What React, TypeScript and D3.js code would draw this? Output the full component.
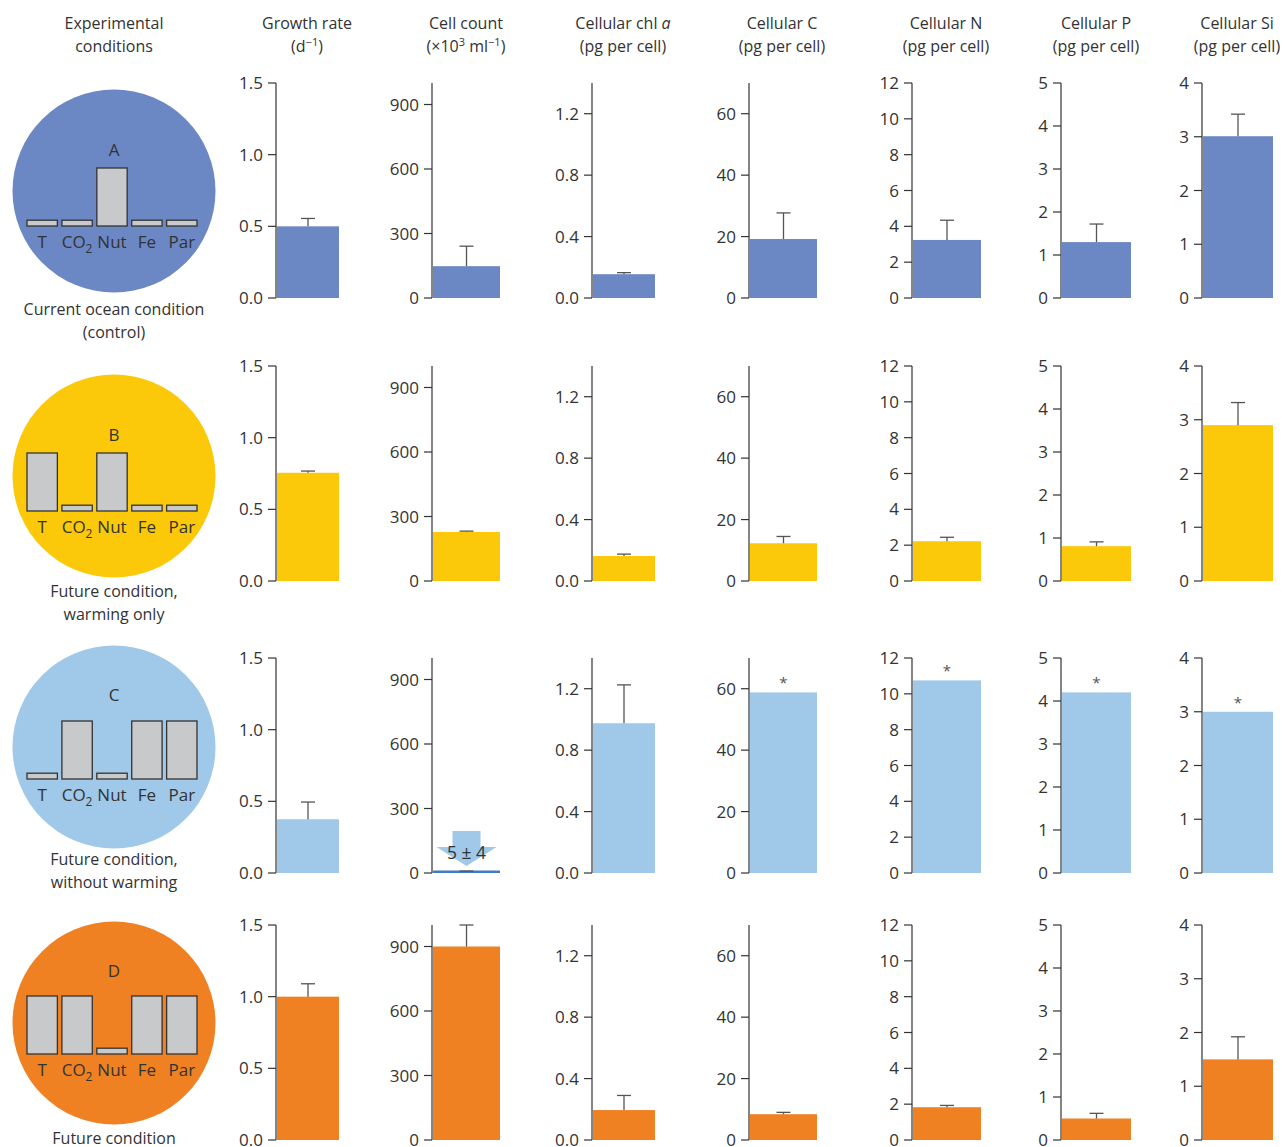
import React from "react";
import * as d3 from "d3";

// ---------- DATA ----------
const scenarios = ["A", "B", "C", "D"];
const scenarioColors = ["#6b87c4", "#fcc90a", "#9fc8e9", "#f08122"];
const captions = [
  ["Current ocean condition", "(control)"],
  ["Future condition,", "warming only"],
  ["Future condition,", "without warming"],
  ["Future condition", ""],
];
const drivers = ["T", "CO2", "Nut", "Fe", "Par"];
// driver levels (0.1 = low/current, 1 = high/future)
const driverLevelsA = [0.1, 0.1, 1, 0.1, 0.1];
const driverLevelsB = [1, 0.1, 1, 0.1, 0.1];
const driverLevelsC = [0.1, 1, 0.1, 1, 1];
const driverLevelsD = [1, 1, 0.1, 1, 1];
const driverLevels = [driverLevelsA, driverLevelsB, driverLevelsC, driverLevelsD];

const variableNames = ["growth", "cell", "chl", "C", "N", "P", "Si"];
const variableMax = [1.5, 1000, 1.4, 70, 12, 5, 4];
const ticksGrowth = [0, 0.5, 1.0, 1.5];
const ticksCell = [0, 300, 600, 900];
const ticksChl = [0, 0.4, 0.8, 1.2];
const ticksC = [0, 20, 40, 60];
const ticksN = [0, 2, 4, 6, 8, 10, 12];
const ticksP = [0, 1, 2, 3, 4, 5];
const ticksSi = [0, 1, 2, 3, 4];
const variableTicks = [ticksGrowth, ticksCell, ticksChl, ticksC, ticksN, ticksP, ticksSi];
const tickDecimals = [1, 0, 1, 0, 0, 0, 0];

// values per scenario (A, B, C, D)
const growthMean = [0.5, 0.755, 0.375, 1.0];
const growthErr = [0.055, 0.012, 0.12, 0.09];
const cellMean = [148, 228, 5, 900];
const cellErr = [93, 4, 4, 100];
const chlMean = [0.155, 0.163, 0.975, 0.195];
const chlErr = [0.01, 0.012, 0.25, 0.095];
const cMean = [19.2, 12.3, 58.8, 8.4];
const cErr = [8.5, 2.2, 0, 0.6];
const nMean = [3.24, 2.22, 10.75, 1.83];
const nErr = [1.1, 0.22, 0, 0.1];
const pMean = [1.3, 0.81, 4.2, 0.5];
const pErr = [0.42, 0.1, 0, 0.12];
const siMean = [3.01, 2.9, 3.0, 1.5];
const siErr = [0.41, 0.42, 0, 0.42];
const means = [growthMean, cellMean, chlMean, cMean, nMean, pMean, siMean];
const errs = [growthErr, cellErr, chlErr, cErr, nErr, pErr, siErr];
// significance markers (scenario index, variable index)
const asterisks = [[2, 3], [2, 4], [2, 5], [2, 6]];
const cellCountNoteC = "5 ± 4";

// ---------- LAYOUT ----------
const W = 1285;
const H = 1147;
const FONT = "'Open Sans', 'Noto Sans', sans-serif";
const TEXT = "#333333";
const rowZero = [298, 581, 873, 1140];
const plotH = 215;
const circleCy = [191, 476, 747, 1023];
const circleCx = 114;
const circleR = 101.5;
const iconBase = [226, 511, 779, 1054];
const letterDy = [-70, -70, -78, -77];
const captionY = [315, 597, 865, 1144];
const axisX = [276, 432, 592, 749, 912, 1061, 1202];
const barW = [62, 67, 62, 67, 68, 69, 70];

function Header() {
  const centers = [114, 307, 466, 623, 782, 946, 1096, 1237];
  const y1 = 29;
  const y2 = 52;
  const t = { fontFamily: FONT, fontSize: 16, fill: TEXT, textAnchor: "middle" as const };
  const sup = { fontSize: 11 };
  return (
    <g>
      <text x={centers[0]} y={y1} {...t}>Experimental</text>
      <text x={centers[0]} y={y2} {...t}>conditions</text>
      <text x={centers[1]} y={y1} {...t}>Growth rate</text>
      <text x={centers[1]} y={y2} {...t}>
        (d<tspan dy={-6} {...sup}>−1</tspan><tspan dy={6}>)</tspan>
      </text>
      <text x={centers[2]} y={y1} {...t}>Cell count</text>
      <text x={centers[2]} y={y2} {...t}>
        (×10<tspan dy={-6} {...sup}>3</tspan>
        <tspan dy={6}> ml</tspan>
        <tspan dy={-6} {...sup}>−1</tspan>
        <tspan dy={6}>)</tspan>
      </text>
      <text x={centers[3]} y={y1} {...t}>
        Cellular chl <tspan fontStyle="italic">a</tspan>
      </text>
      <text x={centers[3]} y={y2} {...t}>(pg per cell)</text>
      {["C", "N", "P", "Si"].map((s, i) => (
        <g key={s}>
          <text x={centers[4 + i]} y={y1} {...t}>Cellular {s}</text>
          <text x={centers[4 + i]} y={y2} {...t}>(pg per cell)</text>
        </g>
      ))}
    </g>
  );
}

function Scenario({ si }: { si: number }) {
  const cy = circleCy[si];
  const base = iconBase[si];
  const xb = d3
    .scaleBand<string>()
    .domain(drivers)
    .range([circleCx - 87, circleCx + 83])
    .paddingInner(0.13);
  const hIcon = d3.scaleLinear().domain([0, 1]).range([0, 58]);
  return (
    <g>
      <circle cx={circleCx} cy={cy} r={circleR} fill={scenarioColors[si]} />
      <text
        x={circleCx}
        y={base + letterDy[si]}
        fontFamily={FONT}
        fontSize={17}
        fill={TEXT}
        textAnchor="middle"
      >
        {scenarios[si]}
      </text>
      {drivers.map((d, i) => {
        const h = hIcon(driverLevels[si][i]);
        const x = xb(d) as number;
        return (
          <rect
            key={d}
            x={x}
            y={base - h}
            width={xb.bandwidth()}
            height={h}
            fill="#c8c9cb"
            stroke="#333"
            strokeWidth={1.3}
          />
        );
      })}
      {drivers.map((d) => {
        const x = (xb(d) as number) + xb.bandwidth() / 2;
        const props = {
          x,
          y: base + 22,
          fontFamily: FONT,
          fontSize: 17,
          fill: TEXT,
          textAnchor: "middle" as const,
        };
        if (d === "CO2")
          return (
            <text key={d} {...props}>
              CO<tspan dy={5} fontSize={12}>2</tspan>
            </text>
          );
        return (
          <text key={d} {...props}>
            {d}
          </text>
        );
      })}
      {captions[si].map((c, k) =>
        c ? (
          <text
            key={k}
            x={circleCx}
            y={captionY[si] + k * 22.5}
            fontFamily={FONT}
            fontSize={16}
            fill={TEXT}
            textAnchor="middle"
          >
            {c}
          </text>
        ) : null
      )}
    </g>
  );
}

function Panel({ si, vi }: { si: number; vi: number }) {
  const zero = rowZero[si];
  const ax = axisX[vi];
  const y = d3.scaleLinear().domain([0, variableMax[vi]]).range([zero, zero - plotH]);
  const m = means[vi][si];
  const e = errs[vi][si];
  const w = barW[vi];
  const cx = ax + 1 + w / 2;
  const fmt = d3.format(`.${tickDecimals[vi]}f`);
  const barH = zero - y(m);
  const tiny = barH < 2.5;
  const star = asterisks.some(([a, b]) => a === si && b === vi);
  const showNote = si === 2 && vi === 1;
  return (
    <g>
      <rect
        x={ax + 1}
        y={tiny ? zero - 2.5 : y(m)}
        width={w}
        height={tiny ? 2.5 : barH}
        fill={tiny ? "#3f7cc2" : scenarioColors[si]}
      />
      {e > 0 && (
        <g stroke="#555" strokeWidth={1.3}>
          <line x1={cx} x2={cx} y1={y(m)} y2={y(m + e)} />
          <line x1={cx - 7} x2={cx + 7} y1={y(m + e)} y2={y(m + e)} />
        </g>
      )}
      {star && (
        <text
          x={cx}
          y={y(m) - 4}
          fontFamily={FONT}
          fontSize={15}
          fill="#555"
          textAnchor="middle"
        >
          *
        </text>
      )}
      {showNote && (
        <g>
          <polygon
            points={[
              [cx - 14, zero - 42],
              [cx + 14, zero - 42],
              [cx + 14, zero - 26],
              [cx + 30, zero - 26],
              [cx, zero - 7],
              [cx - 30, zero - 26],
              [cx - 14, zero - 26],
            ]
              .map((p) => p.join(","))
              .join(" ")}
            fill="#9fc8e9"
          />
          <text
            x={cx}
            y={zero - 14}
            fontFamily={FONT}
            fontSize={17.5}
            fill={TEXT}
            textAnchor="middle"
          >
            {cellCountNoteC}
          </text>
        </g>
      )}
      <line x1={ax} x2={ax} y1={zero} y2={zero - plotH} stroke="#333" strokeWidth={1.2} />
      {variableTicks[vi].map((t) => (
        <g key={t}>
          <line x1={ax - 8} x2={ax} y1={y(t)} y2={y(t)} stroke="#333" strokeWidth={1.2} />
          <text
            x={ax - 13}
            y={y(t)}
            dy="0.36em"
            fontFamily={FONT}
            fontSize={17}
            fill={TEXT}
            textAnchor="end"
          >
            {fmt(t)}
          </text>
        </g>
      ))}
    </g>
  );
}

export default function App() {
  return (
    <svg
      width={W}
      height={H}
      viewBox={`0 0 ${W} ${H}`}
      style={{ position: "absolute", left: 0, top: 0, background: "#fff" }}
    >
      <rect width={W} height={H} fill="#fff" />
      <Header />
      {scenarios.map((_, si) => (
        <g key={si}>
          <Scenario si={si} />
          {variableNames.map((_v, vi) => (
            <Panel key={vi} si={si} vi={vi} />
          ))}
        </g>
      ))}
    </svg>
  );
}
